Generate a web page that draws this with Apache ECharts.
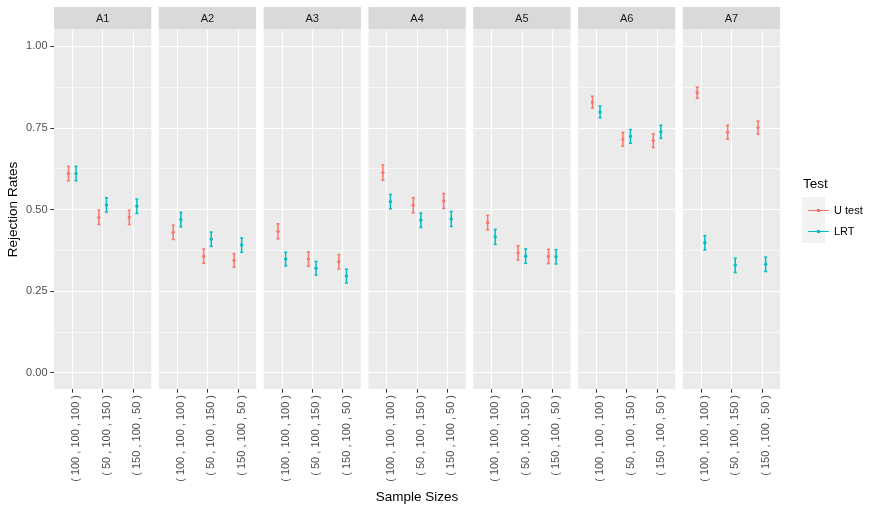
<!DOCTYPE html>
<html>
<head>
<meta charset="utf-8">
<script src="https://cdn.jsdelivr.net/npm/echarts@6/dist/echarts.min.js"></script>
<style>
  html, body { margin: 0; padding: 0; background: #fff; }
  #chart { width: 878px; height: 513px; }
</style>
</head>
<body>
<div id="chart"></div>
<script>
// panels and x categories
const panels = ['A1', 'A2', 'A3', 'A4', 'A5', 'A6', 'A7'];
const sampleSizes = ['( 100 , 100 , 100 )', '( 50 , 100 , 150 )', '( 150 , 100 , 50 )'];
const tests = ['U test', 'LRT'];
const yTicks = [0, 0.25, 0.5, 0.75, 1];
const yMinorTicks = [0.125, 0.375, 0.625, 0.875];

// rejection rates per panel, one value per sample size
const uRate = [
  [0.610, 0.476, 0.476],
  [0.430, 0.357, 0.344],
  [0.433, 0.348, 0.340],
  [0.613, 0.513, 0.526],
  [0.460, 0.367, 0.356],
  [0.829, 0.715, 0.711],
  [0.858, 0.737, 0.751]
];
const lrtRate = [
  [0.610, 0.514, 0.510],
  [0.469, 0.409, 0.391],
  [0.348, 0.320, 0.296],
  [0.524, 0.467, 0.471],
  [0.416, 0.357, 0.355],
  [0.799, 0.724, 0.738],
  [0.398, 0.329, 0.332]
];
// half width of the error bars
const uErr = [
  [0.022, 0.022, 0.022],
  [0.022, 0.022, 0.021],
  [0.023, 0.022, 0.022],
  [0.023, 0.023, 0.023],
  [0.022, 0.022, 0.022],
  [0.018, 0.021, 0.021],
  [0.017, 0.021, 0.020]
];
const lrtErr = [
  [0.022, 0.022, 0.022],
  [0.022, 0.022, 0.022],
  [0.021, 0.021, 0.021],
  [0.022, 0.022, 0.023],
  [0.023, 0.022, 0.022],
  [0.018, 0.021, 0.020],
  [0.022, 0.022, 0.022]
];

const colors = ['#F8766D', '#00BFC4'];
const dodge = [-0.125, 0.125];
const font = '"Liberation Sans", Arial, sans-serif';

const chart = echarts.init(document.getElementById('chart'));

const panelLeft = 54, panelStep = 104.8, panelWidth = 97.3;
const panelTop = 30, panelHeight = 359;

const grids = [], xAxes = [], yAxes = [], series = [], graphics = [];

function renderPointRange(params, api) {
  const d = dodge[params.seriesIndex % 2];
  const x = api.value(0) + d;
  const mid = api.coord([x, api.value(1)]);
  const lo = api.coord([x, api.value(2)]);
  const hi = api.coord([x, api.value(3)]);
  const cap = api.size([0.05, 0])[0];
  const color = api.visual('color');
  const lineStyle = { stroke: color, lineWidth: 1.5 };
  return {
    type: 'group',
    children: [
      { type: 'line', shape: { x1: mid[0], y1: lo[1], x2: mid[0], y2: hi[1] }, style: lineStyle },
      { type: 'line', shape: { x1: mid[0] - cap, y1: lo[1], x2: mid[0] + cap, y2: lo[1] }, style: lineStyle },
      { type: 'line', shape: { x1: mid[0] - cap, y1: hi[1], x2: mid[0] + cap, y2: hi[1] }, style: lineStyle },
      { type: 'circle', shape: { cx: mid[0], cy: mid[1], r: 1.7 }, style: { fill: color } }
    ]
  };
}

panels.forEach(function (p, i) {
  const left = panelLeft + i * panelStep;
  grids.push({
    left: left, top: panelTop, width: panelWidth, height: panelHeight,
    show: true, backgroundColor: '#EBEBEB', borderWidth: 0
  });

  // x axis: category positions 0,1,2 on a value scale, expanded by 0.6 each side
  xAxes.push({
    type: 'value', gridIndex: i, min: -0.6, max: 2.6, position: 'bottom',
    axisLine: { show: false, onZero: false },
    axisTick: { show: true, customValues: [0, 1, 2], length: 3.7, lineStyle: { color: '#333333', width: 1 } },
    axisLabel: {
      show: true, customValues: [0, 1, 2], rotate: 90, margin: 6,
      color: '#4D4D4D', fontSize: 11, fontFamily: font,
      verticalAlign: 'top', lineHeight: 8,
      formatter: function (v) { return sampleSizes[Math.round(v)]; }
    },
    splitLine: { show: true, lineStyle: { color: '#FFFFFF', width: 1.1 } },
    name: i === 3 ? 'Sample Sizes' : '',
    nameLocation: 'middle', nameGap: 101,
    nameTextStyle: { color: '#000000', fontSize: 13.5, fontFamily: font }
  });

  // major y axis
  yAxes.push({
    type: 'value', gridIndex: i, min: -0.05, max: 1.05, position: 'left',
    axisLine: { show: false, onZero: false },
    axisTick: { show: i === 0, customValues: yTicks, length: 3.7, lineStyle: { color: '#333333', width: 1 } },
    axisLabel: {
      show: i === 0, customValues: yTicks, margin: 6.5,
      color: '#4D4D4D', fontSize: 11, fontFamily: font,
      formatter: function (v) { return v.toFixed(2); }
    },
    splitLine: { show: true, lineStyle: { color: '#FFFFFF', width: 1.1 } },
    name: i === 0 ? 'Rejection Rates' : '',
    nameLocation: 'middle', nameGap: 34,
    nameTextStyle: { color: '#000000', fontSize: 13.5, fontFamily: font }
  });
  // minor y grid lines
  yAxes.push({
    type: 'value', gridIndex: i, min: -0.05, max: 1.05, position: 'right',
    axisLine: { show: false, onZero: false },
    axisTick: { show: false, customValues: yMinorTicks },
    axisLabel: { show: false, customValues: yMinorTicks },
    splitLine: { show: true, lineStyle: { color: '#FFFFFF', width: 0.55 } }
  });

  [uRate, lrtRate].forEach(function (rates, t) {
    const errs = t === 0 ? uErr : lrtErr;
    series.push({
      type: 'custom',
      name: tests[t],
      xAxisIndex: i,
      yAxisIndex: i * 2,
      itemStyle: { color: colors[t] },
      renderItem: renderPointRange,
      encode: { x: 0, y: [1, 2, 3] },
      data: rates[i].map(function (v, k) {
        return [k, v, v - errs[i][k], v + errs[i][k]];
      }),
      z: 5
    });
  });

  // facet strip
  graphics.push({
    type: 'rect', left: left, top: 7,
    shape: { width: panelWidth, height: 22.5 },
    style: { fill: '#D9D9D9' }
  });
  graphics.push({
    type: 'text', x: left + panelWidth / 2, y: 18.5,
    style: {
      text: p, fill: '#1A1A1A', font: '11px ' + font,
      textAlign: 'center', textVerticalAlign: 'middle'
    }
  });
});

// legend title and key background
graphics.push({
  type: 'text', x: 803, y: 184,
  style: { text: 'Test', fill: '#000000', font: '13.5px ' + font, textVerticalAlign: 'middle' }
});
graphics.push({
  type: 'rect', left: 802, top: 197,
  shape: { width: 23, height: 46 },
  style: { fill: '#F2F2F2' }
});

const option = {
  animation: false,
  backgroundColor: '#FFFFFF',
  grid: grids,
  xAxis: xAxes,
  yAxis: yAxes,
  graphic: graphics,
  legend: {
    orient: 'vertical',
    left: 803, top: 200,
    itemWidth: 21, itemHeight: 4,
    itemGap: 10,
    selectedMode: false,
    data: tests.map(function (t) {
      return { name: t, icon: 'path://M0,1.5h20v1h-20z M8.5,0.5h3v3h-3z' };
    }),
    textStyle: { color: '#000000', fontSize: 11, fontFamily: font }
  },
  series: series
};

chart.setOption(option);
</script>
</body>
</html>
